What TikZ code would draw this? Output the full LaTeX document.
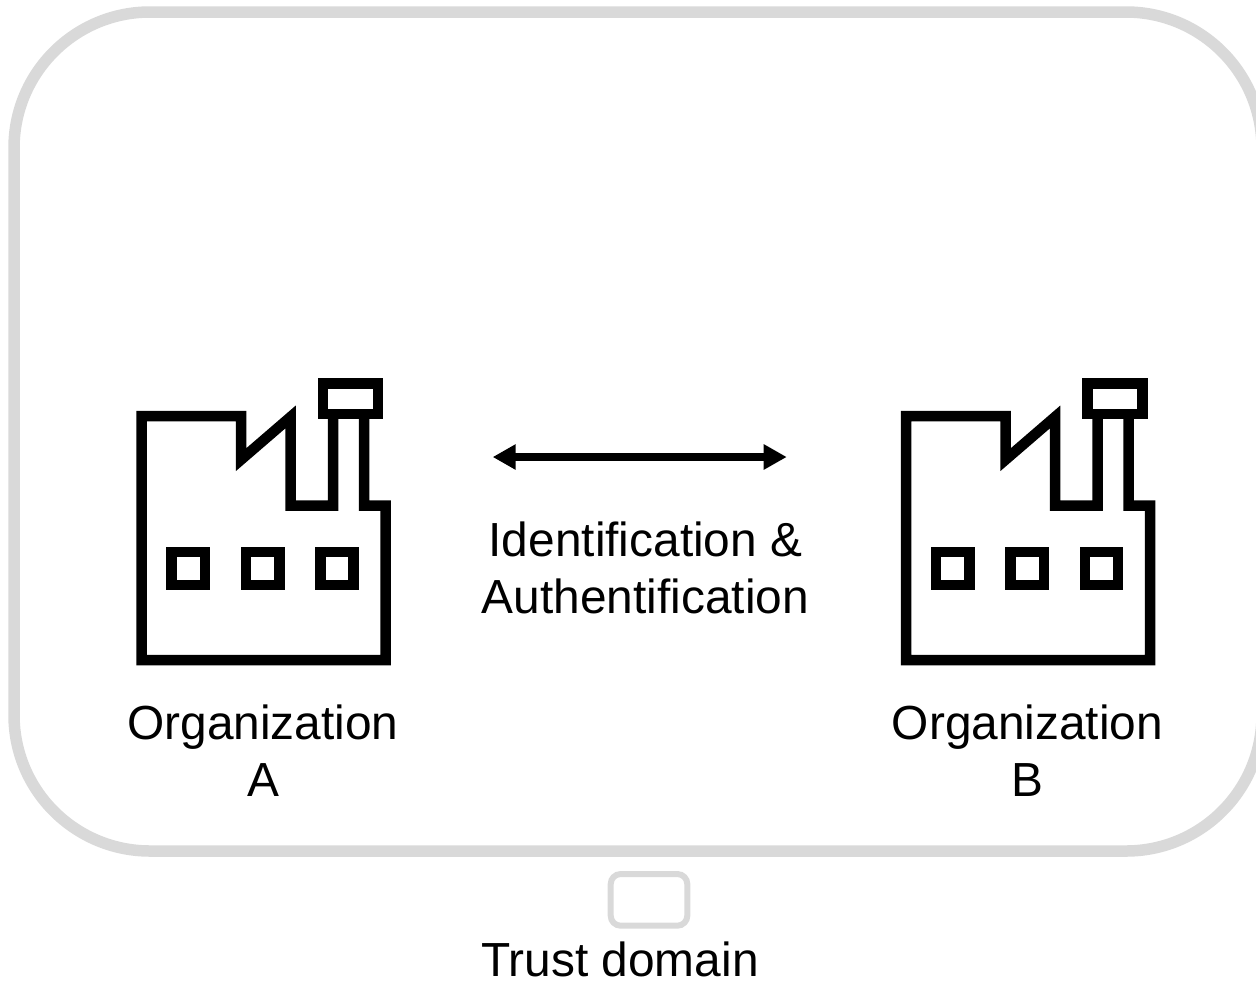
\documentclass[tikz,border=0pt]{standalone}
\usepackage{fontspec}
\setmainfont{Liberation Sans}
\usetikzlibrary{arrows.meta}
\definecolor{domaingray}{HTML}{D9D9D9}
\tikzstyle{trustbox}=[draw=domaingray,line width=6.9pt,rounded corners=81.6pt]
\tikzstyle{legendbox}=[draw=domaingray,line width=3.6pt,rounded corners=6pt]
\tikzstyle{factory}=[draw=black,line width=6.3pt,miter limit=10]
\tikzstyle{link}=[{Triangle[length=13.8pt,width=14.4pt]}-{Triangle[length=13.8pt,width=14.4pt]},line width=4.5pt]
\tikzstyle{caption}=[font=\fontsize{28.7}{34.2}\selectfont,align=center,inner sep=0pt]

\begin{document}
\begin{tikzpicture}[x=0.6pt,y=-0.6pt]

   \useasboundingbox (0,0) rectangle (1256,981);

   % trust domain
   \draw[trustbox] (14,12) rectangle (1262,851);

   % both organizations
   \foreach \shift/\name/\letter in {0/a/A, 764.5/b/B}
   {
      \begin{scope}[xshift=\shift*0.6pt]
         \draw[factory,line cap=butt] (364,414) -- (364,505.5) -- (385.5,505.5) -- (385.5,660) -- (141.5,660)
            -- (141.5,416) -- (241,416) -- (241,459.7) -- (290.5,417) -- (290.5,505.5)
            -- (333,505.5) -- (333,414);
         \draw[factory] (323,383.3) rectangle (378,414);

         \foreach \xa/\xb in {171.5/205, 246/279.7, 320.5/353.7}
            \draw[factory] (\xa,552) rectangle (\xb,585);

         \node[caption] (org\name) at (263,751) {Organization\\\letter};
      \end{scope}
   }

   \coordinate (linkleft) at (492.7,457);
   \coordinate (linkright) at (786.7,457);
   \draw[link] (linkleft) -- (linkright);

   \node[caption] (linkcaption) at (645.5,568) {Identification \&\\Authentification};

   % legend
   \draw[legendbox] (610.7,874) rectangle (687.3,925.7);
   \node[caption] (legend) at (620,959) {Trust domain};

\end{tikzpicture}
\end{document}
